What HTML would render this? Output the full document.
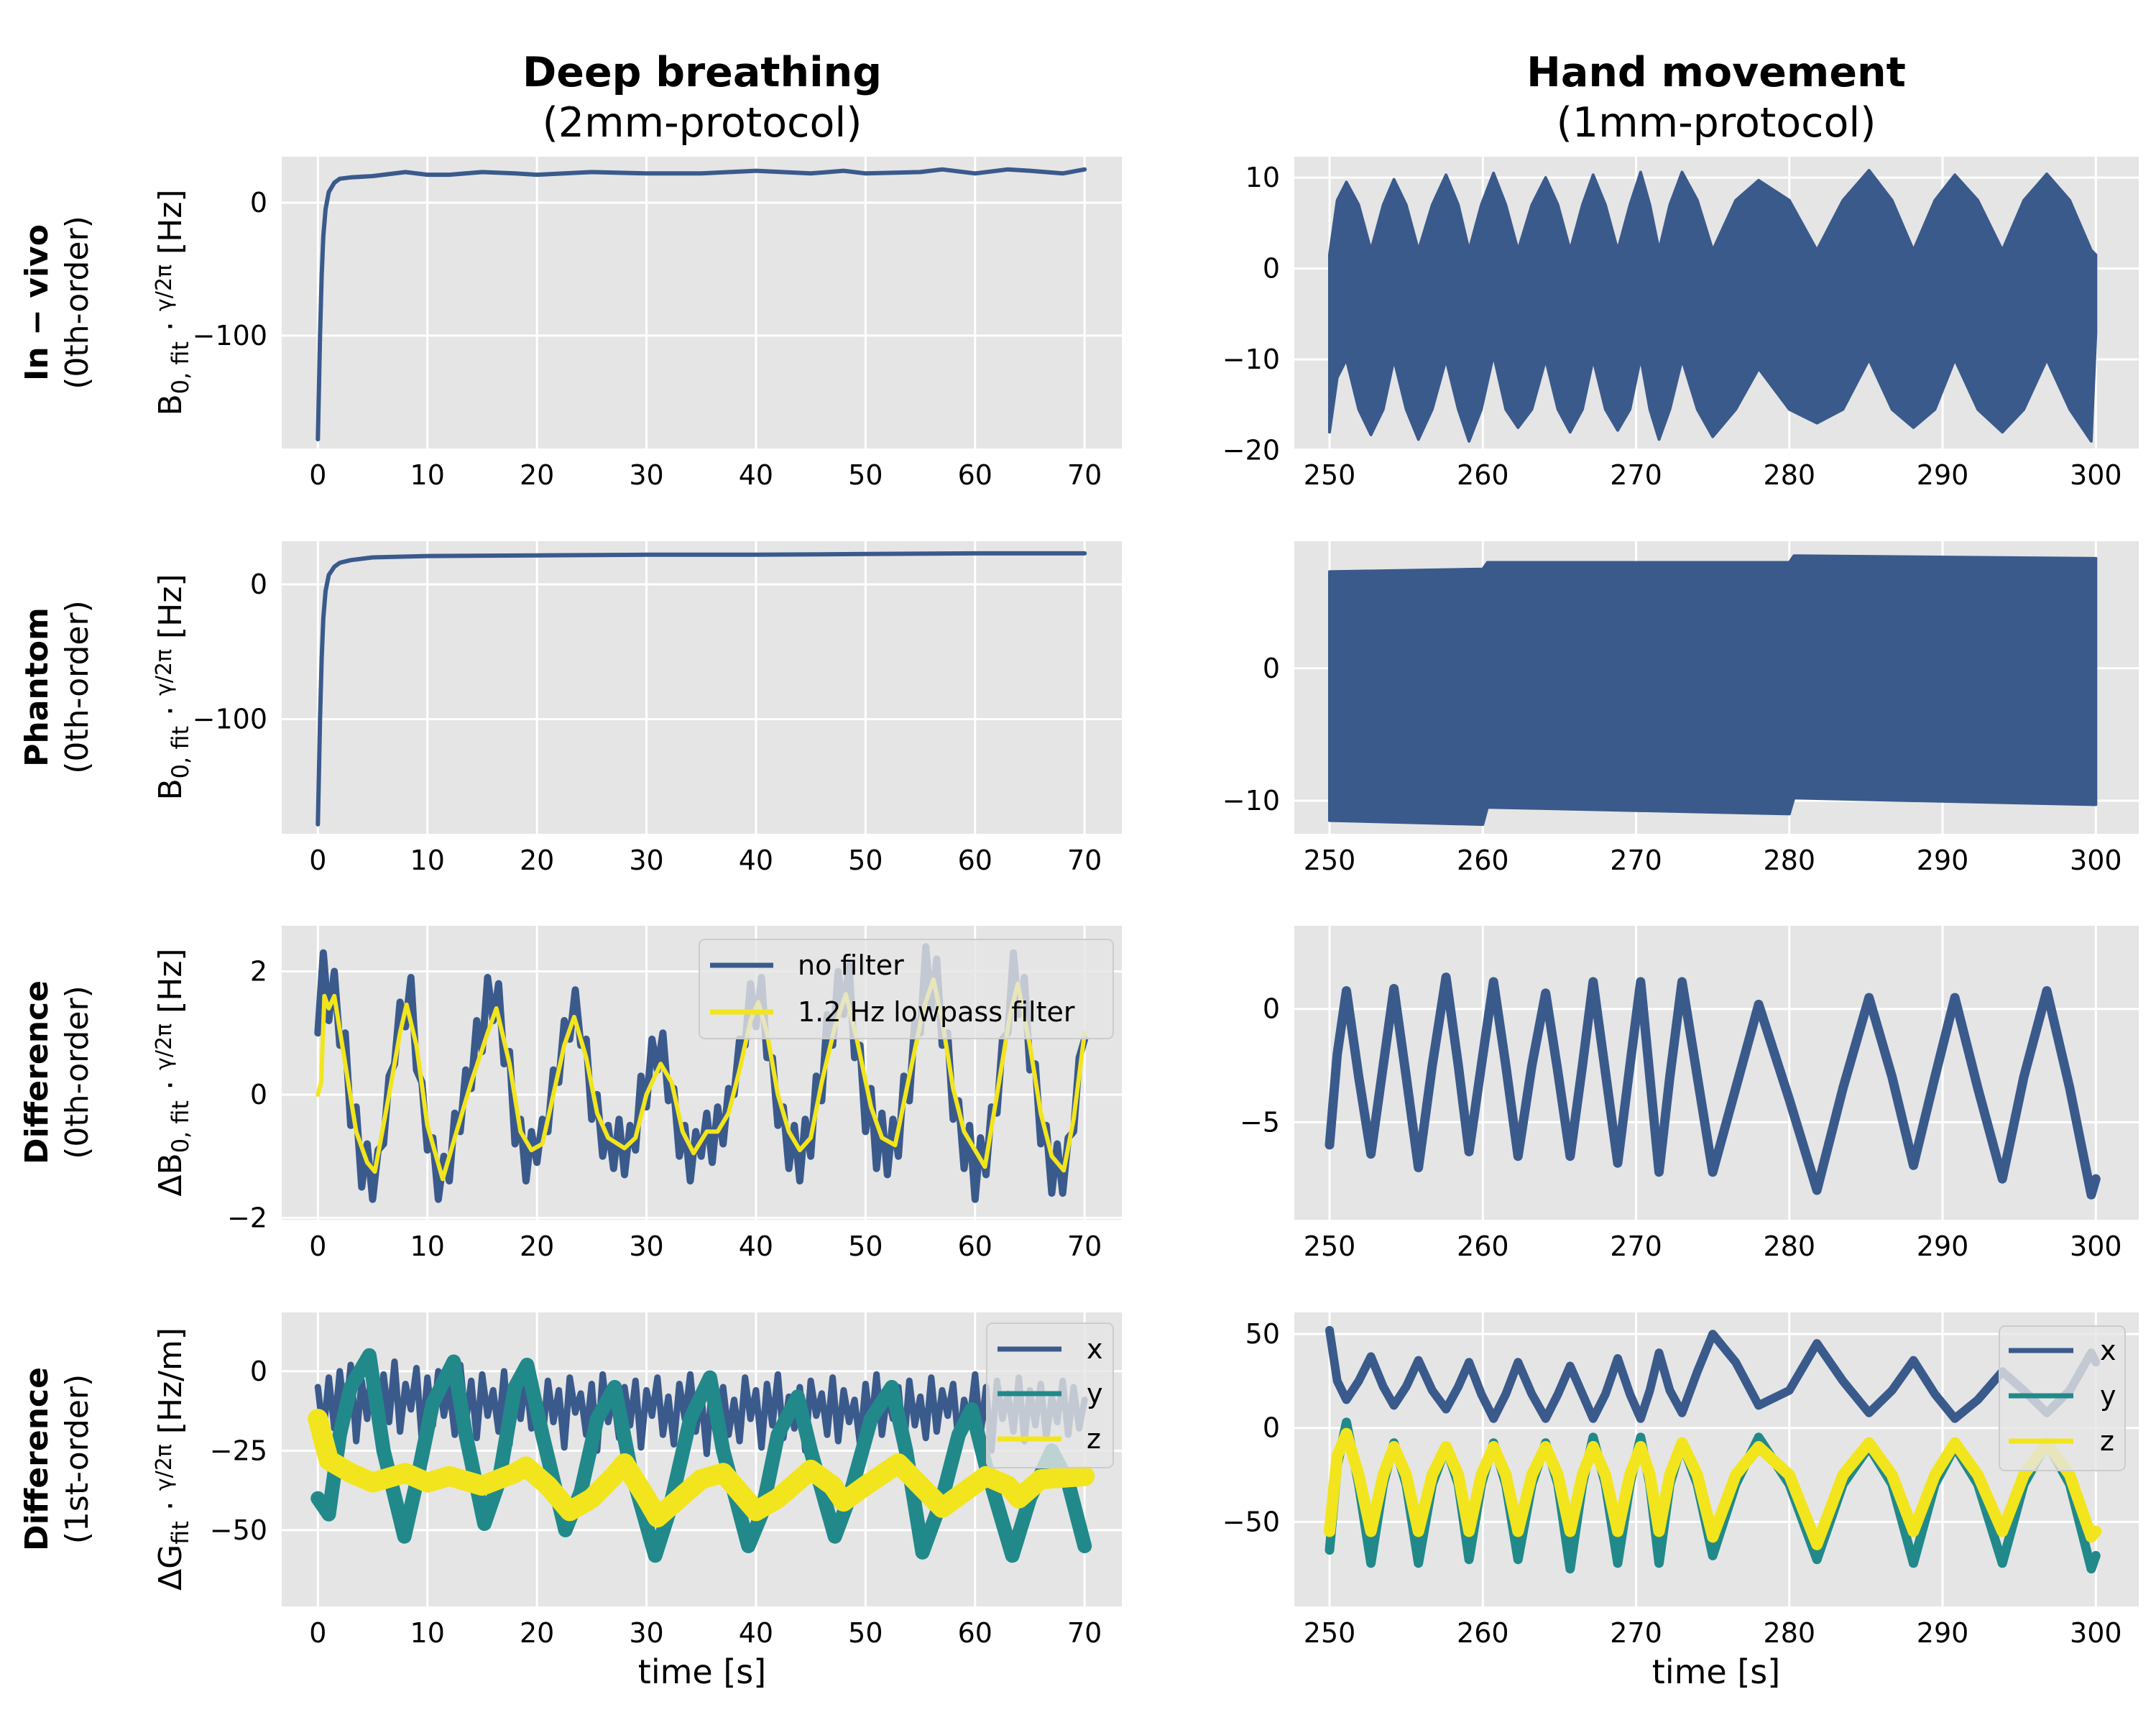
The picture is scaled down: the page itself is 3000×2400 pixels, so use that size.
<!DOCTYPE html>
<html><head><meta charset="utf-8"><style>
html,body{margin:0;padding:0;background:#fff;}
svg{display:block;font-family:"DejaVu Sans","Liberation Sans",sans-serif;}
</style></head><body>
<svg id="fig" width="3000" height="2400" viewBox="0 0 3000 2400" xmlns="http://www.w3.org/2000/svg">
<text x="977" y="120" text-anchor="middle" font-size="57" font-weight="bold">Deep breathing</text>
<text x="977" y="190" text-anchor="middle" font-size="57">(2mm-protocol)</text>
<text x="2388" y="120" text-anchor="middle" font-size="57" font-weight="bold">Hand movement</text>
<text x="2388" y="190" text-anchor="middle" font-size="57">(1mm-protocol)</text>
<g id="panels"></g>
</svg>
<script>
// ---------- data ----------
const invivoT = [0,0.1,0.2,0.35,0.5,0.7,1,1.5,2,3,5,8,10,12,15,18,20,25,30,35,40,45,48,50,55,57,60,63,65,68,70];
const invivoV = [-178,-140,-100,-55,-25,-5,8,15,18,19,20,23,21,21,23,22,21,23,22,22,24,22,24,22,23,25,22,25,24,22,25];
const phantomT = [0,0.1,0.2,0.35,0.5,0.7,1,1.5,2,3,5,10,20,30,40,50,60,70];
const phantomV = [-178,-140,-100,-55,-25,-5,7,13,16,18,20,21,21.5,22,22,22.5,23,23];
const diffFiltT = [0,0.3,0.6,1.0,1.5,2.5,3.5,4.5,5.2,6.5,7.5,8.1,9,10,11.4,12.5,14,15.5,16.3,17.5,18.5,19.5,20.5,21.5,22.5,23.4,24.5,25.5,26.5,28,29,30,31.3,32.3,33.3,34.3,35.5,36.5,37.5,38.5,39.5,40.2,41,42,43,44,45,46,47.2,48.2,49.2,50.5,51.5,52.7,54,55.3,56.2,57,58,59,60.9,62,63.2,63.9,65,66,67,68.1,69,70];
const diffFiltV = [0,0.2,1.6,1.4,1.6,0.5,-0.6,-1.1,-1.25,0,1.0,1.46,0.8,-0.5,-1.37,-0.7,0.2,1.0,1.4,0.5,-0.6,-0.9,-0.8,0,0.8,1.26,0.6,-0.3,-0.7,-0.87,-0.7,0,0.5,0.2,-0.6,-0.95,-0.6,-0.6,-0.3,0.4,1.2,1.5,1.0,0,-0.6,-0.9,-0.7,0.2,1.1,1.63,0.9,-0.2,-0.7,-0.82,0.3,1.4,1.87,1.2,0.1,-0.6,-1.17,0,1.3,1.8,0.8,-0.3,-1.0,-1.23,-0.4,1.0];
const diffRawV = [1.0,2.3,1.2,2.0,0.8,1.0,-0.5,-0.2,-1.5,-0.8,-1.7,-0.9,-0.8,0.3,0.5,1.5,1.1,1.9,0.4,0.2,-0.9,-0.7,-1.7,-1.0,-1.4,-0.3,-0.6,0.4,0.1,1.2,0.7,1.9,1.2,1.8,0.5,0.7,-0.8,-0.4,-1.4,-0.6,-1.1,-0.4,-0.6,0.4,0.2,1.2,0.9,1.7,0.8,0.9,-0.4,0.0,-1.0,-0.5,-1.2,-0.4,-1.3,-0.5,-0.9,0.3,-0.2,0.9,0.4,1.0,-0.1,0.1,-1.0,-0.5,-1.4,-0.6,-1.0,-0.3,-1.1,-0.2,-0.8,0.1,0.0,0.9,0.8,1.8,1.1,1.9,0.6,0.6,-0.5,-0.2,-1.2,-0.5,-1.4,-0.4,-1.0,0.3,-0.1,1.3,0.8,2.0,1.3,2.1,0.6,0.8,-0.6,0.1,-1.2,-0.3,-1.3,-0.4,-1.0,0.3,-0.1,1.2,1.0,2.4,1.4,2.2,0.8,1.0,-0.4,-0.1,-1.2,-0.5,-1.7,-0.7,-1.3,-0.2,-0.3,0.9,1.0,2.3,1.3,1.9,0.4,0.5,-0.8,-0.5,-1.6,-0.8,-1.6,-0.7,-0.6,0.6,0.9];
const gradXV = [-5,-20,-2,-18,0,-15,2,-22,-3,-15,5,-20,-1,-16,3,-19,-4,-12,1,-22,-2,-17,0,-14,-5,-20,2,-16,-3,-21,-1,-14,-6,-19,0,-23,-4,-15,-2,-18,-8,-22,-3,-16,-6,-24,-2,-13,-7,-20,-4,-25,-1,-16,-8,-21,-5,-17,-3,-24,-6,-14,-2,-20,-8,-23,-4,-15,-1,-19,-7,-26,-3,-16,-5,-20,-9,-22,-2,-15,-6,-24,-4,-17,-1,-21,-8,-18,-5,-25,-3,-14,-7,-20,-2,-22,-6,-16,-9,-23,-4,-18,-1,-20,-7,-15,-5,-24,-3,-17,-8,-21,-2,-19,-6,-14,-4,-23,-9,-16,-1,-20,-5,-25,-3,-15,-7,-19,-2,-22,-6,-17,-4,-21,-8,-16,-3,-20,-5,-18,-9];
const gradYT = [0,1,2,3,4.7,6,7.9,9,10.5,12.4,13.5,15.2,16.5,18,19.1,20.5,22.6,24,25.5,27.1,28.5,30.8,32,34,35.8,37,39.3,40.5,42,43.8,45,47.2,48.5,50.5,52.4,53.7,55.2,57,58.5,59.7,61,63.4,65,67,68.5,70];
const gradYV = [-40,-45,-20,-5,5,-25,-52,-35,-10,3,-20,-48,-35,-5,2,-20,-50,-38,-15,-5,-30,-58,-45,-15,-2,-25,-55,-45,-20,-8,-25,-52,-40,-15,-5,-25,-57,-40,-20,-12,-30,-58,-40,-25,-35,-55];
const gradZT = [0,1,3,5,8,10,12,15,18,19,21,23,25,27,28,30,31,33,35,37,39,40,42,45,47,48,50,53,55,57,59,61,63,64,66,70];
const gradZV = [-15,-28,-32,-35,-32,-35,-33,-36,-32,-30,-36,-44,-40,-33,-29,-40,-46,-40,-34,-32,-40,-44,-40,-31,-36,-41,-36,-29,-36,-43,-38,-33,-36,-40,-34,-33];
const handT = [250,250.5,251.1,251.9,252.7,253.5,254.2,255.0,255.8,256.7,257.6,258.4,259.1,259.9,260.7,261.5,262.3,263.2,264.1,264.9,265.7,266.5,267.2,268.0,268.8,269.6,270.3,270.9,271.5,272.2,273.0,274.0,275.0,276.5,278.0,280.0,281.8,283.5,285.2,286.7,288.1,289.5,290.8,292.3,293.9,295.3,296.8,298.3,299.7,300];
const invivoUpper = [1.5,7.5,9.5,7,2,7,9.8,7,2,7,10.3,7,2,7,10.5,7,2,7,10,7,2,7,10.3,7,2,7,10.6,7,2,7,10.6,7.5,2,7.5,9.7,7.5,2,7.5,10.8,7.5,2,7.5,10.3,7.5,2,7.5,10.4,7.5,2,1.5];
const invivoLower = [-18,-12,-10,-15.5,-18.3,-15.5,-10,-15.5,-18.8,-15.5,-10,-15.5,-19,-15.5,-9.5,-15.5,-17.5,-15.5,-10,-15.5,-18,-15.5,-10,-15.5,-17.8,-15.5,-9.8,-15.5,-18.8,-15.5,-10,-15.5,-18.5,-15.5,-11,-15.5,-17,-15.5,-10,-15.5,-17.5,-15.5,-10,-15.5,-18,-15.5,-10,-15.5,-19,-7];
const phantomRT = [250,260,260.3,280,280.3,300];
const phantomUpper = [7.3,7.5,8.0,8.0,8.5,8.3];
const phantomLower = [-11.5,-11.8,-10.5,-11,-9.8,-10.3];
const handDiffV = [-6,-2,0.8,-3,-6.4,-2.5,0.9,-3,-7.0,-2.5,1.4,-2.5,-6.3,-2.5,1.2,-2.5,-6.5,-2.5,0.7,-2.8,-6.5,-2.5,1.2,-2.8,-6.8,-2.5,1.2,-3,-7.2,-3,1.2,-3,-7.2,-3.5,0.2,-4,-8.0,-3.5,0.5,-3,-6.9,-3,0.5,-3.5,-7.5,-3,0.8,-3.5,-8.2,-7.5];
const handGX = [52,25,15,25,38,22,12,22,36,20,10,22,35,18,5,18,35,18,5,18,33,18,5,18,37,18,5,20,40,20,8,30,50,35,12,20,45,25,8,20,36,18,5,15,30,20,8,20,40,35];
const handGY = [-65,-20,3,-30,-72,-30,-8,-30,-72,-30,-10,-30,-70,-30,-8,-30,-70,-30,-8,-30,-75,-30,-5,-30,-72,-30,-5,-30,-72,-30,-8,-30,-68,-30,-5,-30,-70,-30,-10,-30,-72,-30,-10,-30,-72,-30,-8,-30,-75,-68];
const handGZ = [-55,-15,-3,-25,-55,-25,-10,-25,-55,-25,-10,-25,-55,-25,-10,-25,-55,-25,-10,-25,-55,-25,-10,-25,-55,-25,-10,-25,-55,-25,-8,-25,-58,-25,-10,-25,-62,-25,-8,-25,-55,-25,-8,-25,-55,-25,-8,-25,-58,-55];
const leftTicks = [0,10,20,30,40,50,60,70];
const rightTicks = [250,260,270,280,290,300];

// ---------- drawing ----------
const NS = "http://www.w3.org/2000/svg";
const root = document.getElementById('panels');
const BLUE = "#3a5a8c", TEAL = "#21898a", YEL = "#f2e51d";
function el(tag, attrs, parent){ const e=document.createElementNS(NS,tag); for(const k in attrs) e.setAttribute(k,attrs[k]); (parent||root).appendChild(e); return e; }
let clipId=0;
function panel(name, x0, x1, y0, y1, xd, yd, xt, yt){
  const g = el('g',{});
  
  
  const bg = el('rect',{x:x0,y:y0,width:x1-x0,height:y1-y0,fill:'#e5e5e5'},g);
  
  
  const sx = v => x0 + (v-xd[0])/(xd[1]-xd[0])*(x1-x0);
  const sy = v => y1 - (v-yd[0])/(yd[1]-yd[0])*(y1-y0);
  xt.forEach(t=>{ const X=sx(t);
    const gl = el('line',{x1:X,x2:X,y1:y0,y2:y1,stroke:'#fff','stroke-width':3},g);
     
    const tl = el('text',{x:X,y:y1+50,'text-anchor':'middle','font-size':38},g); tl.textContent=t;
     
  });
  yt.forEach(t=>{ const Y=sy(t);
    const gl = el('line',{x1:x0,x2:x1,y1:Y,y2:Y,stroke:'#fff','stroke-width':3},g);
     
    const tl = el('text',{x:x0-20,y:Y+13,'text-anchor':'end','font-size':38},g); tl.textContent=(t<0?'\u2212'+(-t):t);
     
  });
  clipId++;
  const cp = el('clipPath',{id:'c'+clipId},g); el('rect',{x:x0,y:y0,width:x1-x0,height:y1-y0},cp);
  const data = el('g',{'clip-path':'url(#c'+clipId+')'},g);
  return {g, data, sx, sy, x0,x1,y0,y1};
}
function line(p, ts, vs, color, w, name){
  const d = vs.map((v,i)=>(i?'L':'M')+p.sx(ts[i]).toFixed(1)+','+p.sy(v).toFixed(1)).join('');
  const e = el('path',{d, fill:'none', stroke:color,'stroke-width':w,'stroke-linejoin':'round','stroke-linecap':'round'},p.data);
   
}
function band(p, ts, up, lo, color, name){
  let d = up.map((v,i)=>(i?'L':'M')+p.sx(ts[i]).toFixed(1)+','+p.sy(v).toFixed(1)).join('');
  for(let i=lo.length-1;i>=0;i--) d += 'L'+p.sx(ts[i]).toFixed(1)+','+p.sy(lo[i]).toFixed(1);
  const e = el('path',{d:d+'Z', fill:color, stroke:color,'stroke-width':4,'stroke-linejoin':'round'},p.data);
   
}
const uniformT = (n, a, b) => Array.from({length:n},(_, i)=>a+(b-a)*i/(n-1));
function legend(x, y, w, h, items, name){
  const g = el('g',{});
   
  el('rect',{x,y,width:w,height:h,rx:8,fill:'rgba(229,229,229,0.8)',stroke:'#cccccc','stroke-width':2},g);
  items.forEach(it=>{
    const ln = el('line',{x1:it.lx1,x2:it.lx2,y1:it.y,y2:it.y,stroke:it.c,'stroke-width':7},g);
     
    const t = el('text',{x:it.tx,y:it.y+13,'font-size':38},g); t.textContent=it.label;
     
  });
}
function rowLabel(cy, bold, norm, name){
  const g = el('g',{transform:`translate(0,${cy}) rotate(-90)`});
   
  const a = el('text',{x:0,y:66,'text-anchor':'middle','font-size':44,'font-weight':'bold'},g); a.textContent=bold;
  const b = el('text',{x:0,y:122,'text-anchor':'middle','font-size':44},g); b.textContent=norm;
}
function yLabel(cy, pre, sub, unit, name){
  const g = el('g',{transform:`translate(252,${cy}) rotate(-90)`});
   
  const t = el('text',{x:0,y:0,'text-anchor':'middle','font-size':44},g);
  const s1 = el('tspan',{},t); s1.textContent=pre;
  const s2 = el('tspan',{'font-size':32,dy:10},t); s2.textContent=sub;
  const s3 = el('tspan',{dy:-10},t); s3.textContent=' \u00b7 ';
  const s4 = el('tspan',{'font-size':30,dy:-14},t); s4.textContent='\u03b3/2\u03c0';
  const s5 = el('tspan',{dy:14},t); s5.textContent=' [' + unit + ']';
}

const LX=[392,1561], RX=[1801,2976];
const ROWS=[[218,624],[753,1160],[1288,1697],[1826,2235]];
const LD=[-3.3,73.4], RD=[247.7,302.8];

// Row 1
let p = panel('invivo-breathing-panel', LX[0],LX[1],ROWS[0][0],ROWS[0][1], LD, [-185,34.6], leftTicks, [0,-100]);
line(p, invivoT, invivoV, BLUE, 6, 'invivo-b0-line');
p = panel('invivo-hand-panel', RX[0],RX[1],ROWS[0][0],ROWS[0][1], RD, [-19.8,12.3], rightTicks, [10,0,-10,-20]);
band(p, handT, invivoUpper, invivoLower, BLUE, 'invivo-hand-band');
// Row 2
p = panel('phantom-breathing-panel', LX[0],LX[1],ROWS[1][0],ROWS[1][1], LD, [-185,32], leftTicks, [0,-100]);
line(p, phantomT, phantomV, BLUE, 6, 'phantom-b0-line');
p = panel('phantom-hand-panel', RX[0],RX[1],ROWS[1][0],ROWS[1][1], RD, [-12.5,9.6], rightTicks, [0,-10]);
band(p, phantomRT, phantomUpper, phantomLower, BLUE, 'phantom-hand-band');
// Row 3
p = panel('diff0-breathing-panel', LX[0],LX[1],ROWS[2][0],ROWS[2][1], LD, [-2.03,2.74], leftTicks, [2,0,-2]);
line(p, uniformT(diffRawV.length,0,70), diffRawV, BLUE, 10, 'no-filter-line');
line(p, diffFiltT, diffFiltV, YEL, 6, 'lowpass-filter-line');
p = panel('diff0-hand-panel', RX[0],RX[1],ROWS[2][0],ROWS[2][1], RD, [-9.3,3.67], rightTicks, [0,-5]);
line(p, handT, handDiffV, BLUE, 13, 'hand-diff0-line');
// Row 4
p = panel('diff1-breathing-panel', LX[0],LX[1],ROWS[3][0],ROWS[3][1], LD, [-74,18.5], leftTicks, [0,-25,-50]);
line(p, uniformT(gradXV.length,0,70), gradXV, BLUE, 9, 'grad-x-line');
line(p, gradYT, gradYV, TEAL, 20, 'grad-y-line');
line(p, gradZT, gradZV, YEL, 28, 'grad-z-line');
p = panel('diff1-hand-panel', RX[0],RX[1],ROWS[3][0],ROWS[3][1], RD, [-95,61.5], rightTicks, [50,0,-50]);
line(p, handT, handGX, BLUE, 12, 'hand-grad-x-line');
line(p, handT, handGY, TEAL, 13, 'hand-grad-y-line');
line(p, handT, handGZ, YEL, 16, 'hand-grad-z-line');

legend(973,1307,576,138,[{lx1:988,lx2:1076,tx:1110,y:1343,c:BLUE,label:'no filter'},{lx1:988,lx2:1076,tx:1110,y:1408,c:YEL,label:'1.2 Hz lowpass filter'}],'legend-diff0');
legend(1373,1841,176,201,[{lx1:1388,lx2:1477,tx:1512,y:1877,c:BLUE,label:'x'},{lx1:1388,lx2:1477,tx:1512,y:1939,c:TEAL,label:'y'},{lx1:1388,lx2:1477,tx:1512,y:2002,c:YEL,label:'z'}],'legend-diff1-left');
legend(2782,1845,175,201,[{lx1:2795,lx2:2885,tx:2922,y:1879,c:BLUE,label:'x'},{lx1:2795,lx2:2885,tx:2922,y:1942,c:TEAL,label:'y'},{lx1:2795,lx2:2885,tx:2922,y:2005,c:YEL,label:'z'}],'legend-diff1-right');

rowLabel(421,'In \u2212 vivo','(0th-order)','row-label-invivo');
rowLabel(956,'Phantom','(0th-order)','row-label-phantom');
rowLabel(1492,'Difference','(0th-order)','row-label-diff0');
rowLabel(2030,'Difference','(1st-order)','row-label-diff1');
yLabel(421,'B','0, fit','Hz','y-axis-title-invivo');
yLabel(956,'B','0, fit','Hz','y-axis-title-phantom');
yLabel(1492,'\u0394B','0, fit','Hz','y-axis-title-diff0');
yLabel(2030,'\u0394G','fit','Hz/m','y-axis-title-diff1');

const xl1 = el('text',{x:977,y:2342,'text-anchor':'middle','font-size':46});
xl1.textContent='time [s]';
 
const xl2 = el('text',{x:2388,y:2342,'text-anchor':'middle','font-size':46});
xl2.textContent='time [s]';
 
</script>
</body></html>
